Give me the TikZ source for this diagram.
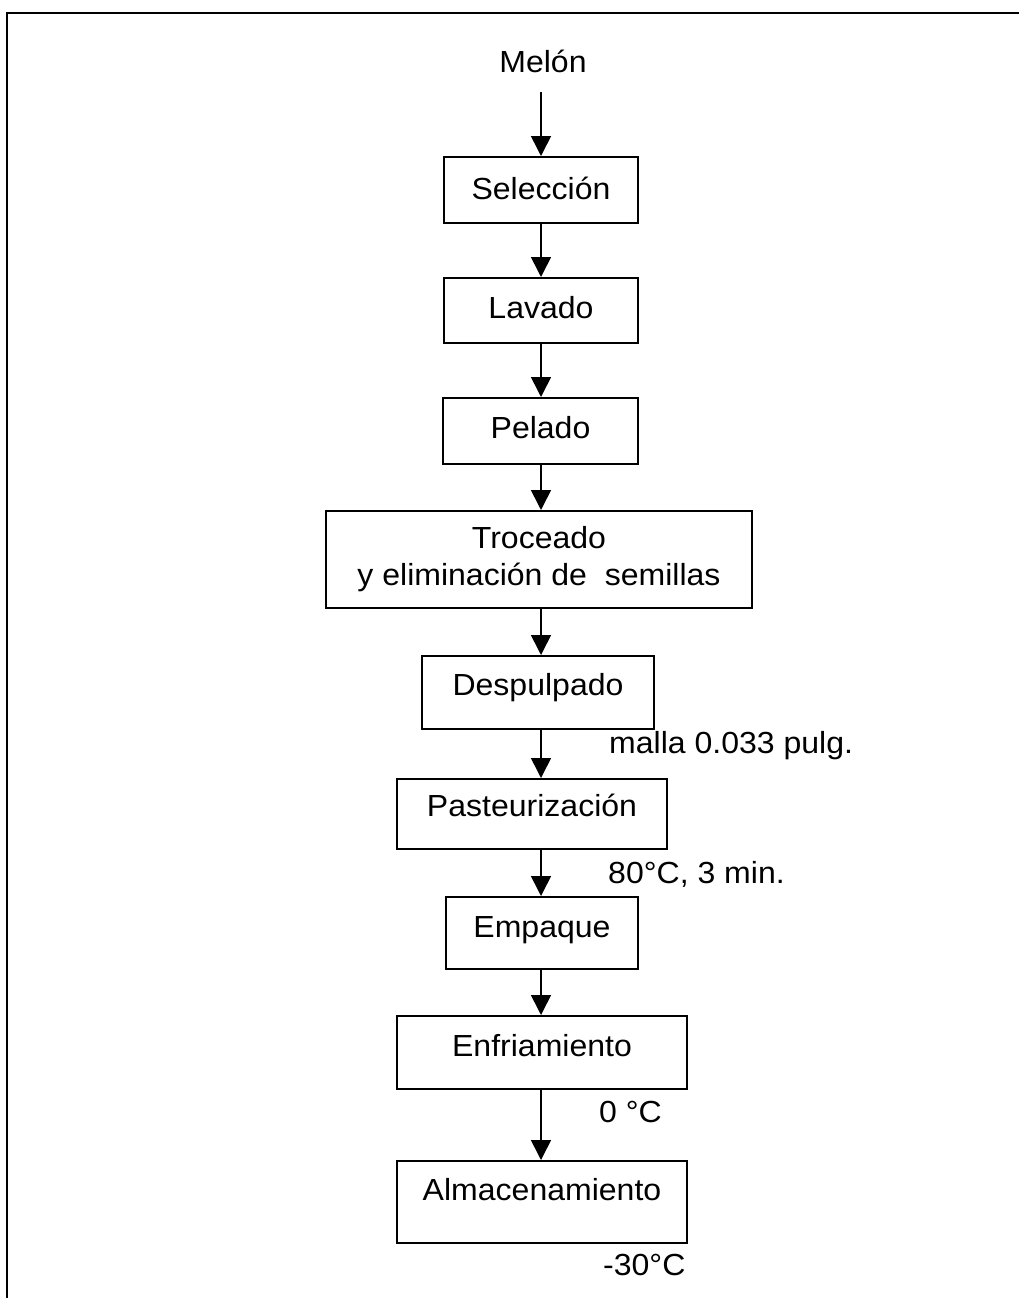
\documentclass[tikz,border=0pt]{standalone}
\usepackage{fontspec}
\setmainfont{Liberation Sans}[FakeStretch=1.05]
\usetikzlibrary{arrows.meta}
\newcommand\fsz{\fontsize{30.5pt}{37pt}\selectfont}
\begin{document}
\begin{tikzpicture}[x=1pt,y=-1pt,
  procbox/.style={draw, line width=1.8pt, inner xsep=0pt, inner ysep=0pt, font=\fsz, anchor=north},
  lbl/.style={inner sep=0pt, anchor=base west, font=\fsz},
  arr/.style={line width=1.6pt, -{Triangle[width=20pt,length=20pt]}},
  frameline/.style={line width=2.4pt}]
\useasboundingbox (0,0) rectangle (1019,1298);
% frame (cut by the page on the right and at the bottom)
\draw[frameline] (1019,13) -- (7,13) -- (7,1298);
\coordinate (axis) at (541,0);
% nodes
\node[inner sep=0pt, anchor=base, font=\fsz] (melon) at (543,72) {Melón};
\node[procbox, minimum width=194pt, minimum height=66pt, text height=43pt, text depth=23pt] (sel) at (541,156) {Selección};
\node[procbox, minimum width=194pt, minimum height=65pt, text height=41pt, text depth=24pt] (lav) at (541,277) {Lavado};
\node[procbox, minimum width=195pt, minimum height=66pt, text height=41pt, text depth=25pt] (pel) at (540.5,397) {Pelado};
\node[procbox, minimum width=426pt, minimum height=97pt, align=center] (tro) at (539,510) {Troceado\\y eliminación de\ \ semillas};
\node[procbox, minimum width=232pt, minimum height=73pt, text height=40pt, text depth=33pt] (desp) at (538,655) {Despulpado};
\node[procbox, minimum width=270pt, minimum height=70pt, text height=38pt, text depth=32pt] (past) at (532,778) {Pasteurización};
\node[procbox, minimum width=192pt, minimum height=72pt, text height=41pt, text depth=31pt] (emp) at (542,896) {Empaque};
\node[procbox, minimum width=290pt, minimum height=73pt, text height=41pt, text depth=32pt] (enf) at (542,1015) {Enfriamiento};
\node[procbox, minimum width=290pt, minimum height=82pt, text height=40pt, text depth=42pt] (alm) at (542,1160) {Almacenamiento};
% condition labels
\node[lbl] (mallalbl) at (609,753) {malla 0.033 pulg.};
\node[lbl] (pastlbl) at (608,883) {80°C, 3 min.};
\node[lbl] (enflbl) at (599,1122) {0 °C};
\node[lbl] (almlbl) at (603,1275) {-30°C};
% connectors
\draw[arr, shorten <=20pt] (melon.south -| axis) -- (sel.north -| axis);
\draw[arr] (sel.south -| axis) -- (lav.north -| axis);
\draw[arr] (lav.south -| axis) -- (pel.north -| axis);
\draw[arr] (pel.south -| axis) -- (tro.north -| axis);
\draw[arr] (tro.south -| axis) -- (desp.north -| axis);
\draw[arr] (desp.south -| axis) -- (past.north -| axis);
\draw[arr] (past.south -| axis) -- (emp.north -| axis);
\draw[arr] (emp.south -| axis) -- (enf.north -| axis);
\draw[arr] (enf.south -| axis) -- (alm.north -| axis);
\end{tikzpicture}
\end{document}
